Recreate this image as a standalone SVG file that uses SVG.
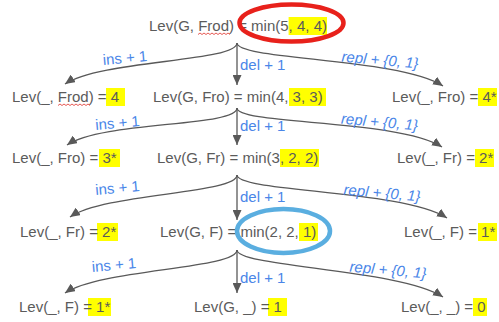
<svg xmlns="http://www.w3.org/2000/svg" width="499" height="322" viewBox="0 0 499 322">
<style>
.t{font-family:"Liberation Sans",Arial,sans-serif;font-size:15px;fill:#5b5b5b}
.l{font-family:"Liberation Sans",Arial,sans-serif;font-size:15px;fill:#4a86e8}
.i{font-style:italic}
.c{fill:none;stroke:#595959;stroke-width:1.3}
.h{fill:#ffff00}
.w{fill:none;stroke:#e0302a;stroke-width:0.8}
</style>
<defs>
<marker id="ah" markerUnits="userSpaceOnUse" markerWidth="11" markerHeight="9" refX="10" refY="4.5" orient="auto">
<path d="M0,0 L10,4.5 L0,9 z" fill="#595959"/>
</marker>
</defs>
<rect width="499" height="322" fill="#ffffff"/>
<g id="connectors">
<path class="c" d="M237,43 C237,62 100,60 65,84" marker-end="url(#ah)"/>
<path class="c" d="M237,43 V85" marker-end="url(#ah)"/>
<path class="c" d="M237,43 C237,60 400,58 443,86" marker-end="url(#ah)"/>
<path class="c" d="M237,108 C237,127 102,121 67,145" marker-end="url(#ah)"/>
<path class="c" d="M237,108 V145" marker-end="url(#ah)"/>
<path class="c" d="M237,108 C237,125 399,119 442,147" marker-end="url(#ah)"/>
<path class="c" d="M237,175 C237,194 105,193 70,217" marker-end="url(#ah)"/>
<path class="c" d="M237,175 V220" marker-end="url(#ah)"/>
<path class="c" d="M237,175 C237,192 404,190 447,218" marker-end="url(#ah)"/>
<path class="c" d="M237,250 C237,269 100,269 65,293" marker-end="url(#ah)"/>
<path class="c" d="M237,250 V293" marker-end="url(#ah)"/>
<path class="c" d="M237,250 C237,267 400,269 443,297" marker-end="url(#ah)"/>
<text class="l" x="125" y="63" text-anchor="middle" transform="rotate(-5 125 58)">ins + 1</text>
<text class="l" x="240" y="70">del + 1</text>
<text class="l i" x="380" y="65" text-anchor="middle" transform="rotate(5 380 60)">repl + {0, 1}</text>
<text class="l" x="117.5" y="128" text-anchor="middle" transform="rotate(-5 117.5 123)">ins + 1</text>
<text class="l" x="240" y="131">del + 1</text>
<text class="l i" x="379.5" y="127" text-anchor="middle" transform="rotate(5 379.5 122)">repl + {0, 1}</text>
<text class="l" x="117.5" y="193" text-anchor="middle" transform="rotate(-5 117.5 188)">ins + 1</text>
<text class="l" x="240" y="202">del + 1</text>
<text class="l i" x="382" y="198" text-anchor="middle" transform="rotate(5 382 193)">repl + {0, 1}</text>
<text class="l" x="114" y="270" text-anchor="middle" transform="rotate(-5 114 265)">ins + 1</text>
<text class="l" x="240" y="283">del + 1</text>
<text class="l i" x="388" y="275" text-anchor="middle" transform="rotate(5 388 270)">repl + {0, 1}</text>
</g>
<g id="n-G-Frod">
<rect class="h" x="288.6" y="17" width="38.4" height="18"/>
<text class="t" x="149" y="31">Lev(G, Frod) = min(5, 4, 4)</text>
<path class="w" d="M198,34.5 l2,-1.5 l2,1.5 l2,-1.5 l2,1.5 l2,-1.5 l2,1.5 l2,-1.5 l2,1.5 l2,-1.5 l2,1.5 l2,-1.5 l2,1.5 l2,-1.5 l2,1.5 l2,-1.5 l2,1.5"/>
</g>
<g id="n-_-Frod">
<rect class="h" x="106" y="88" width="19" height="18"/>
<text class="t" x="12" y="102">Lev(_, Frod) = 4</text>
<path class="w" d="M58,105.5 l2,-1.5 l2,1.5 l2,-1.5 l2,1.5 l2,-1.5 l2,1.5 l2,-1.5 l2,1.5 l2,-1.5 l2,1.5 l2,-1.5 l2,1.5 l2,-1.5 l2,1.5 l2,-1.5 l2,1.5"/>
</g>
<g id="n-G-Fro">
<rect class="h" x="289" y="88" width="37" height="18"/>
<text class="t" x="153" y="102">Lev(G, Fro) = min(4, 3, 3)</text>
</g>
<g id="n-_-Fro-r">
<rect class="h" x="478" y="88" width="19" height="18"/>
<text class="t" x="392" y="102">Lev(_, Fro) = 4*</text>
</g>
<g id="n-_-Fro-l">
<rect class="h" x="99" y="149" width="21" height="18"/>
<text class="t" x="12" y="163">Lev(_, Fro) = 3*</text>
</g>
<g id="n-G-Fr">
<rect class="h" x="280" y="149" width="39" height="18"/>
<text class="t" x="157" y="163">Lev(G, Fr) = min(3, 2, 2)</text>
</g>
<g id="n-_-Fr-r">
<rect class="h" x="475" y="149" width="19" height="18"/>
<text class="t" x="397" y="163">Lev(_, Fr) = 2*</text>
</g>
<g id="n-_-Fr-l">
<rect class="h" x="97" y="223" width="21" height="18"/>
<text class="t" x="20" y="237">Lev(_, Fr) = 2*</text>
</g>
<g id="n-G-F">
<rect class="h" x="299" y="223" width="19" height="18"/>
<text class="t" x="160" y="237">Lev(G, F) = min(2, 2, 1)</text>
</g>
<g id="n-_-F-r">
<rect class="h" x="478" y="223" width="19" height="18"/>
<text class="t" x="404" y="237">Lev(_, F) = 1*</text>
</g>
<g id="n-_-F-l">
<rect class="h" x="88" y="298" width="23" height="18"/>
<text class="t" x="19" y="312">Lev(_, F) = 1*</text>
</g>
<g id="n-G-_">
<rect class="h" x="268" y="298" width="19" height="18"/>
<text class="t" x="194" y="312">Lev(G, _) = 1</text>
</g>
<g id="n-_-_">
<rect class="h" x="473" y="298" width="14" height="18"/>
<text class="t" x="401" y="312">Lev(_, _) = 0</text>
</g>
<g id="marks">
<ellipse cx="291.5" cy="23" rx="52" ry="18.5" fill="none" stroke="#e8211b" stroke-width="4.5"/>
<ellipse cx="283.5" cy="231" rx="46.5" ry="22" fill="none" stroke="#5aaee0" stroke-width="4.5"/>
</g>
</svg>
